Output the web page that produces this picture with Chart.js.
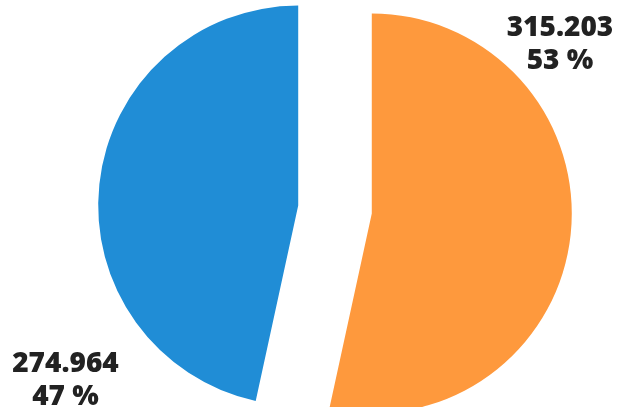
<!DOCTYPE html>
<html>
<head>
<meta charset="utf-8">
<script src="https://cdn.jsdelivr.net/npm/chart.js@4.4.1/dist/chart.umd.min.js"></script>
<style>
  html, body { margin: 0; padding: 0; background: #fff; }
  #wrap { width: 617px; height: 407px; }
</style>
</head>
<body>
<div id="wrap"><canvas id="pieChart"></canvas></div>
<script>
const labels = ['Serie 1', 'Serie 2'];
const values = [315203, 274964];
const colors = ['#fe993d', '#208dd6'];

const fmt = v => String(v).replace(/\B(?=(\d{3})+(?!\d))/g, '.');

// pull each slice out along its middle angle (keeps the straight edges parallel)
const explode = {
  id: 'explode',
  afterDatasetUpdate(chart, args, opts) {
    args.meta.data.forEach(arc => {
      const mid = (arc.startAngle + arc.endAngle) / 2;
      arc.x += Math.cos(mid) * opts.shift;
      arc.y += Math.sin(mid) * opts.shift;
    });
  }
};

const sliceLabels = {
  id: 'sliceLabels',
  afterDatasetsDraw(chart, args, opts) {
    const ctx = chart.ctx;
    const meta = chart.getDatasetMeta(0);
    const total = values.reduce((a, b) => a + b, 0);
    ctx.save();
    ctx.font = opts.font;
    ctx.fillStyle = opts.color;
    ctx.textAlign = 'center';
    ctx.textBaseline = 'middle';
    meta.data.forEach((arc, i) => {
      const a = arc.startAngle + opts.along[i] * (arc.endAngle - arc.startAngle);
      const d = arc.outerRadius * opts.distance[i];
      const x = arc.x + Math.cos(a) * d;
      const y = arc.y + Math.sin(a) * d;
      ctx.fillText(fmt(values[i]), x, y - opts.lineGap / 2);
      ctx.fillText(Math.round(values[i] / total * 100) + ' %', x, y + opts.lineGap / 2);
    });
    ctx.restore();
  }
};

const pieCtx = document.getElementById('pieChart').getContext('2d');

const pieChart = new Chart(pieCtx, {
  type: 'pie',
  data: {
    labels: labels,
    datasets: [{
      data: values,
      backgroundColor: colors,
      borderWidth: 0,
      radius: 200
    }]
  },
  options: {
    responsive: true,
    maintainAspectRatio: false,
    animation: false,
    layout: { padding: { left: 53, top: 12 } },
    plugins: {
      legend: { display: false },
      tooltip: { enabled: false },
      explode: { shift: 37 },
      sliceLabels: {
        font: '800 28px "Open Sans"',
        color: '#222222',
        along: [0.2502, 0.2433],
        distance: [1.264, 1.4555],
        lineGap: 33.5
      }
    }
  },
  plugins: [explode, sliceLabels]
});
</script>
</body>
</html>
